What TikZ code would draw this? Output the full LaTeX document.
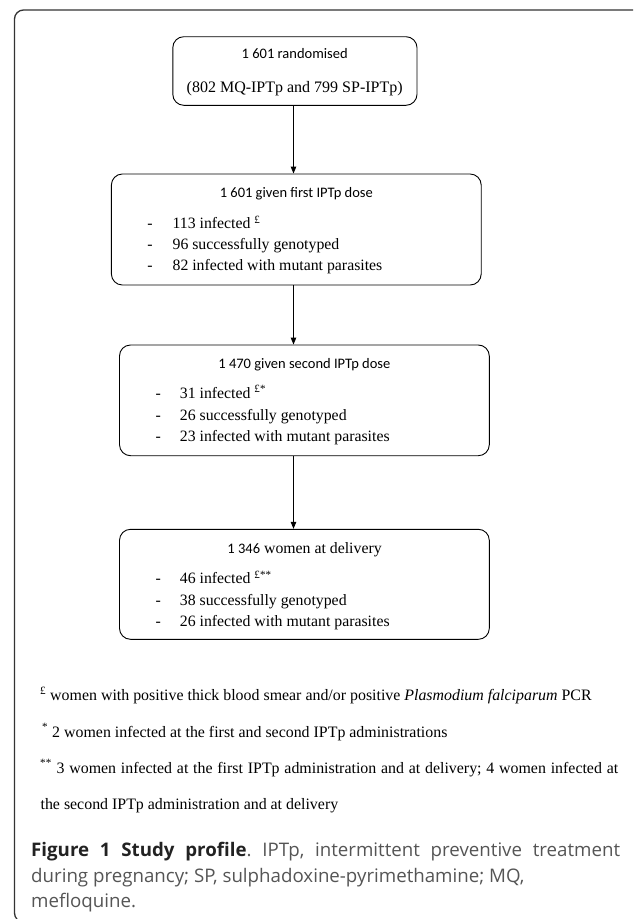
\documentclass[tikz,border=0pt]{standalone}
\usepackage{fontspec}
\setmainfont{Liberation Serif}
\newfontfamily\calfont{Carlito}
\newfontfamily\capfont{Open Sans}
\usetikzlibrary{arrows.meta}
\definecolor{framegray}{HTML}{333333}
\definecolor{capbold}{HTML}{222222}
\definecolor{capgray}{HTML}{555555}
\frenchspacing
\begin{document}
\begin{tikzpicture}[x=1pt,y=-1pt,
  box/.style={draw, rounded corners=11pt, line width=0.9pt, inner sep=0pt},
  ttl/.style={anchor=base, inner sep=0pt, font=\calfont\fontsize{14.5}{17}\selectfont},
  itm/.style={anchor=base west, inner sep=0pt, font=\fontsize{15.8}{19}\selectfont},
  dsh/.style={anchor=base, inner sep=0pt, font=\fontsize{15.8}{19}\selectfont},
  fn/.style={anchor=base west, inner sep=0pt, font=\fontsize{15.9}{19}\selectfont},
  captxt/.style={anchor=base west, inner sep=0pt, font=\capfont\fontsize{18.7}{26.7}\selectfont, text=capgray},
  arr/.style={-{Triangle[length=7pt,width=5.5pt]}, line width=0.9pt}]
\useasboundingbox (0,0) rectangle (633,919);
\begin{scope}
\clip (0,0) rectangle (633,919);
\draw[framegray, line width=1.3pt, rounded corners=9pt] (14.5,10) rectangle (642,922);
\end{scope}

% boxes
\node[box, minimum width=244.2pt, minimum height=68.6pt] (b1) at (294.9,71) {};
\node[box, minimum width=369.8pt, minimum height=111pt] (b2) at (296.3,229.5) {};
\node[box, minimum width=369.8pt, minimum height=110.7pt] (b3) at (304.4,400.35) {};
\node[box, minimum width=369.8pt, minimum height=110pt] (b4) at (304.4,584.3) {};

% arrows
\coordinate (ax) at (293.5,0);
\draw[arr] (b1.south -| ax) -- (b2.north -| ax);
\draw[arr] (b2.south -| ax) -- (b3.north -| ax);
\draw[arr] (b3.south -| ax) -- (b4.north -| ax);

% box 1
\node[ttl] (t1) at (294.7,58) {1 601 randomised};
\node[anchor=base, inner sep=0pt, font=\fontsize{16}{19}\selectfont] (t1b) at (294.7,92) {(802 MQ-IPTp and 799 SP-IPTp)};

% box 2
\node[ttl] (t2) at (296.3,197) {1 601 given first IPTp dose};
\node[dsh] (d21) at (150,228.3) {-};
\node[dsh] (d22) at (150,249.6) {-};
\node[dsh] (d23) at (150,270.9) {-};
\node[itm] (i21) at (172.4,228.3) {113 infected \textsuperscript{£}};
\node[itm] (i22) at (172.4,249.6) {96 successfully genotyped};
\node[itm] (i23) at (172.4,270.9) {82 infected with mutant parasites};

% box 3
\node[ttl] (t3) at (304.4,368) {1 470 given second IPTp dose};
\node[dsh] (d31) at (158.3,398) {-};
\node[dsh] (d32) at (158.3,420.3) {-};
\node[dsh] (d33) at (158.3,441.3) {-};
\node[itm] (i31) at (179.7,398) {31 infected \textsuperscript{£*}};
\node[itm] (i32) at (179.7,420.3) {26 successfully genotyped};
\node[itm] (i33) at (179.7,441.3) {23 infected with mutant parasites};

% box 4
\node[anchor=base, inner sep=0pt, font=\fontsize{15.8}{19}\selectfont] (t4) at (304.6,553) {{\calfont\fontsize{14.5}{17}\selectfont 1 346} women at delivery};
\node[dsh] (d41) at (158.3,583.6) {-};
\node[dsh] (d42) at (158.3,605.3) {-};
\node[dsh] (d43) at (158.3,626.3) {-};
\node[itm] (i41) at (179.7,583.6) {46 infected \textsuperscript{£**}};
\node[itm] (i42) at (179.7,605.3) {38 successfully genotyped};
\node[itm] (i43) at (179.7,626.3) {26 infected with mutant parasites};

% footnotes
\node[fn] (f1) at (40,700.3) {\textsuperscript{£} women with positive thick blood smear and/or positive \textit{Plasmodium falciparum} PCR};
\node[fn] (f2) at (42,737) {\textsuperscript{*} 2 women infected at the first and second IPTp administrations};
\node[fn] (f3) at (40,773) {\makebox[578pt][s]{\textsuperscript{**} 3 women infected at the first IPTp administration and at delivery; 4 women infected at}};
\node[fn] (f4) at (40.4,809.6) {the second IPTp administration and at delivery};

% caption
\node[captxt] (c1) at (31,856) {\makebox[589pt][s]{{\bfseries\color{capbold}Figure 1 Study profile}. IPTp, intermittent preventive treatment}};
\node[captxt] (c2) at (31,882) {during pregnancy; SP, sulphadoxine-pyrimethamine; MQ,};
\node[captxt] (c3) at (31,907.5) {mefloquine.};
\end{tikzpicture}
\end{document}
